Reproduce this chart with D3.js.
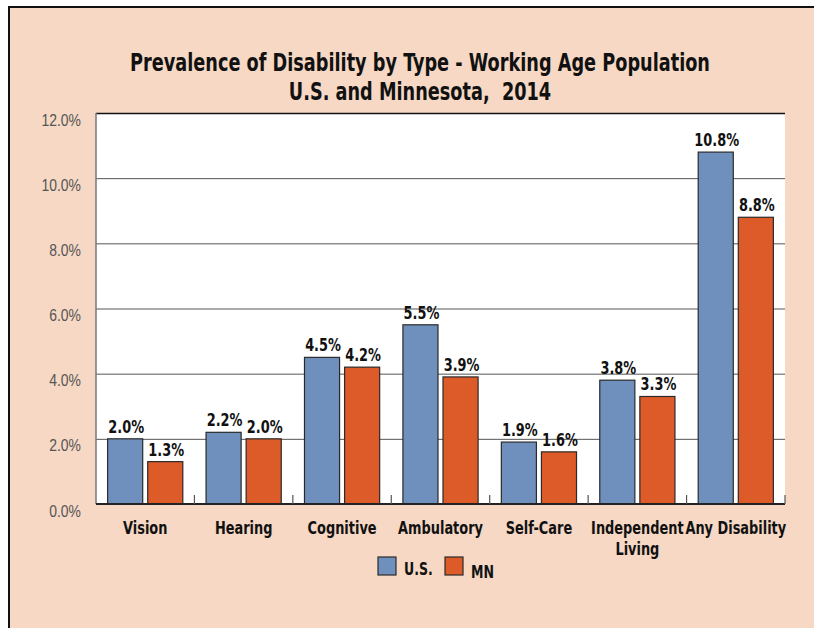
<!DOCTYPE html>
<html>
<head>
<meta charset="utf-8">
<script src="https://cdn.jsdelivr.net/npm/d3@7"></script>
<style>
  html, body { margin: 0; padding: 0; background: #fff; }
  svg { display: block; font-family: "DejaVu Sans Condensed", "DejaVu Sans", sans-serif; }
</style>
</head>
<body>
<svg id="chart"></svg>
<script>
const categories = ["Vision", "Hearing", "Cognitive", "Ambulatory", "Self-Care", "Independent Living", "Any Disability"];
const series = ["U.S.", "MN"];
const usValues = [2.0, 2.2, 4.5, 5.5, 1.9, 3.8, 10.8];
const mnValues = [1.3, 2.0, 4.2, 3.9, 1.6, 3.3, 8.8];
const yTicks = [0, 2, 4, 6, 8, 10, 12];
const titleLines = ["Prevalence of Disability by Type - Working Age Population", "U.S. and Minnesota,  2014"];

const width = 814;
const height = 628;
const margin = { top: 113, right: 29, bottom: 124, left: 96 };
const colors = { "U.S.": "#6f8fbd", "MN": "#dd5a29" };
const squeeze = 0.82; // the reference uses a condensed face, narrow the glyphs

const svg = d3.select("#chart").attr("width", width).attr("height", height);

// put a text at (x, y) with its glyphs squeezed horizontally
const place = (sel, fx, fy) =>
  sel.attr("transform", (d, i) => `translate(${fx(d, i)},${fy(d, i)}) scale(${squeeze},1)`);

// panel background
svg.append("rect")
  .attr("x", 9).attr("y", 7)
  .attr("width", width - 9).attr("height", height - 7)
  .attr("fill", "#f6d8c4");
svg.append("path")
  .attr("d", `M9,${height} V7 H${width}`)
  .attr("fill", "none")
  .attr("stroke", "#111")
  .attr("stroke-width", 2);

const x = d3.scaleBand()
  .domain(categories)
  .range([margin.left, width - margin.right])
  .padding(0);
const x1 = d3.scaleBand()
  .domain(series)
  .range([0, x.bandwidth()])
  .paddingInner(0.125)
  .paddingOuter(0.29);
const y = d3.scaleLinear()
  .domain([0, 12])
  .range([height - margin.bottom, margin.top]);

// plot area
svg.append("rect")
  .attr("x", margin.left).attr("y", margin.top)
  .attr("width", width - margin.right - margin.left)
  .attr("height", y(0) - margin.top)
  .attr("fill", "#fff");

// gridlines + y labels
const yAxis = svg.append("g")
  .attr("transform", `translate(${margin.left},0)`)
  .call(d3.axisLeft(y).tickValues(yTicks).tickSize(-(width - margin.right - margin.left)).tickPadding(15)
    .tickFormat(d => d.toFixed(1) + "%"));
yAxis.select(".domain").remove();
yAxis.selectAll(".tick line")
  .attr("stroke", d => d === 12 ? "#111" : "#555")
  .attr("stroke-width", d => d === 12 ? 1.5 : 1);
yAxis.selectAll(".tick text")
  .attr("x", null).attr("dy", null)
  .attr("fill", "#555")
  .attr("font-size", 17)
  .call(place, () => -15, () => 12);
svg.append("line")
  .attr("x1", margin.left).attr("x2", margin.left)
  .attr("y1", margin.top).attr("y2", y(0))
  .attr("stroke", "#777").attr("stroke-width", 1.5);

const rows = categories.map((c, i) => ({ cat: c, vals: [usValues[i], mnValues[i]] }));

const groups = svg.append("g").selectAll("g")
  .data(rows)
  .join("g")
  .attr("transform", d => `translate(${x(d.cat)},0)`);

groups.selectAll("rect")
  .data(d => series.map((s, j) => ({ s, v: d.vals[j] })))
  .join("rect")
  .attr("x", d => x1(d.s))
  .attr("width", x1.bandwidth())
  .attr("y", d => y(d.v))
  .attr("height", d => y(0) - y(d.v))
  .attr("fill", d => colors[d.s])
  .attr("stroke", "#2a2a2a")
  .attr("stroke-width", 1.2);

groups.selectAll("text.val")
  .data(d => series.map((s, j) => ({ s, v: d.vals[j] })))
  .join("text")
  .attr("class", "val")
  .attr("text-anchor", "middle")
  .attr("font-size", 17.5)
  .attr("font-weight", "bold")
  .attr("fill", "#111")
  .text(d => d.v.toFixed(1) + "%")
  .call(place, d => x1(d.s) + x1.bandwidth() / 2 + 1, d => y(d.v) - 6);

// x axis with small inner ticks at band edges
const xAxis = svg.append("g");
xAxis.append("line")
  .attr("x1", margin.left).attr("x2", width - margin.right)
  .attr("y1", y(0)).attr("y2", y(0))
  .attr("stroke", "#222").attr("stroke-width", 2);
xAxis.selectAll("line.tk")
  .data(categories.slice(1).concat(["end"]))
  .join("line")
  .attr("class", "tk")
  .attr("x1", d => d === "end" ? width - margin.right : x(d))
  .attr("x2", d => d === "end" ? width - margin.right : x(d))
  .attr("y1", y(0)).attr("y2", y(0) - 9)
  .attr("stroke", "#555").attr("stroke-width", 1.2);

const labels = xAxis.selectAll("text.cat")
  .data(categories)
  .join("text")
  .attr("class", "cat")
  .attr("text-anchor", "middle")
  .attr("font-size", 17.5)
  .attr("font-weight", "bold")
  .attr("fill", "#111")
  .call(place, d => x(d) + x.bandwidth() / 2, () => y(0) + 30);
labels.each(function (d) {
  const words = d === "Independent Living" ? ["Independent", "Living"] : [d];
  d3.select(this).selectAll("tspan")
    .data(words)
    .join("tspan")
    .attr("x", 0)
    .attr("dy", (w, i) => i === 0 ? 0 : 21)
    .text(w => w);
});

// legend
const legend = svg.append("g").attr("transform", "translate(378,557)");
const li = legend.selectAll("g")
  .data(series)
  .join("g")
  .attr("transform", (d, i) => `translate(${i * 67},0)`);
li.append("rect")
  .attr("width", 18).attr("height", 18)
  .attr("fill", d => colors[d])
  .attr("stroke", "#2a2a2a").attr("stroke-width", 1.2);
li.append("text")
  .attr("font-size", 17)
  .attr("font-weight", "bold")
  .attr("fill", "#111")
  .text(d => d)
  .call(place, () => 26, (d, i) => 18 + i * 3);

// title
svg.append("g").selectAll("text")
  .data(titleLines)
  .join("text")
  .attr("text-anchor", "middle")
  .attr("font-size", 24)
  .attr("font-weight", "bold")
  .attr("fill", "#111")
  .style("white-space", "pre")
  .text(d => d)
  .call(place, () => 420, (d, i) => 71 + i * 29);
</script>
</body>
</html>
